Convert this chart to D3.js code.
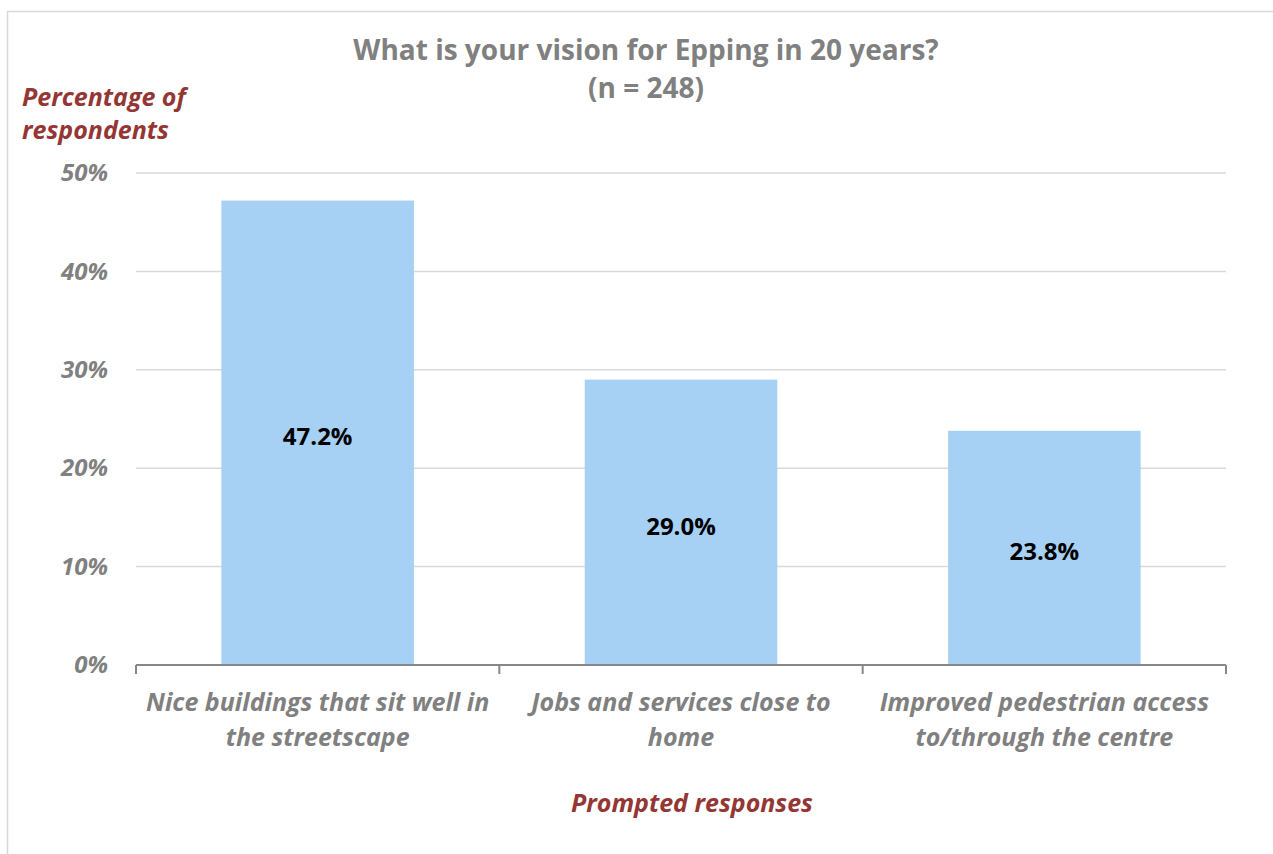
<!DOCTYPE html>
<html>
<head>
<meta charset="utf-8">
<script src="https://cdn.jsdelivr.net/npm/d3@7"></script>
<style>
  html, body { margin: 0; padding: 0; background: #fff; }
  svg { display: block; }
</style>
</head>
<body>
<svg id="chart" width="1273" height="854"></svg>
<script>
// Survey responses: share of respondents choosing each vision
const categories = [
  ["Nice buildings that sit well in", "the streetscape"],
  ["Jobs and services close to", "home"],
  ["Improved pedestrian access", "to/through the centre"]
];
const values = [47.2, 29.0, 23.8];
const yTicks = [0, 10, 20, 30, 40, 50];
const titleLines = ["What is your vision for Epping in 20 years?", "(n = 248)"];
const yTitleLines = ["Percentage of", "respondents"];
const xTitle = "Prompted responses";

const FONT = "'Open Sans', 'Noto Sans', sans-serif";
const svg = d3.select("#chart");

// Outer frame (continues past the visible area at right and bottom)
svg.append("rect")
  .attr("x", 7.5).attr("y", 11.5)
  .attr("width", 1300).attr("height", 900)
  .attr("fill", "#fff")
  .attr("stroke", "#d9d9d9").attr("stroke-width", 1.5);

const plot = { left: 136, right: 1226, top: 173, bottom: 665 };

const x = d3.scaleBand()
  .domain(d3.range(categories.length))
  .range([plot.left, plot.right])
  .paddingInner(0.47).paddingOuter(0.235);

const y = d3.scaleLinear()
  .domain([0, 50])
  .range([plot.bottom, plot.top]);

// Gridlines
svg.append("g")
  .selectAll("line")
  .data(yTicks.filter(t => t > 0))
  .join("line")
  .attr("x1", plot.left).attr("x2", plot.right)
  .attr("y1", d => y(d)).attr("y2", d => y(d))
  .attr("stroke", "#d9d9d9").attr("stroke-width", 1.5);

// Y tick labels
const yAxis = svg.append("g")
  .attr("transform", `translate(${plot.left},0)`)
  .call(d3.axisLeft(y).tickValues(yTicks).tickFormat(d => d + "%").tickSize(0).tickPadding(28));
yAxis.select(".domain").remove();
yAxis.selectAll("text")
  .attr("font-family", FONT)
  .attr("font-size", 24)
  .attr("font-weight", "bold")
  .attr("font-style", "italic")
  .attr("fill", "#808080");

// Bars
svg.append("g")
  .selectAll("rect")
  .data(values)
  .join("rect")
  .attr("x", (d, i) => x(i))
  .attr("width", x.bandwidth())
  .attr("y", d => y(d))
  .attr("height", d => y(0) - y(d))
  .attr("fill", "#a6d1f5");

// Value labels centred in bars
svg.append("g")
  .selectAll("text")
  .data(values)
  .join("text")
  .attr("x", (d, i) => x(i) + x.bandwidth() / 2)
  .attr("y", d => (y(d) + y(0)) / 2 + 4)
  .attr("dy", "0.35em")
  .attr("text-anchor", "middle")
  .attr("font-family", FONT)
  .attr("font-size", 24)
  .attr("font-weight", "bold")
  .attr("fill", "#000")
  .text(d => d.toFixed(1) + "%");

// X axis line with category boundary ticks
const step = (plot.right - plot.left) / categories.length;
const xAxisG = svg.append("g").attr("stroke", "#878787").attr("stroke-width", 2).attr("fill", "none");
xAxisG.append("line")
  .attr("x1", plot.left).attr("x2", plot.right)
  .attr("y1", plot.bottom).attr("y2", plot.bottom);
xAxisG.selectAll("line.tick")
  .data(d3.range(categories.length + 1))
  .join("line")
  .attr("class", "tick")
  .attr("x1", i => plot.left + i * step).attr("x2", i => plot.left + i * step)
  .attr("y1", plot.bottom).attr("y2", plot.bottom + 9);

// Category labels
const catG = svg.append("g");
categories.forEach((lines, i) => {
  const t = catG.append("text")
    .attr("x", x(i) + x.bandwidth() / 2)
    .attr("y", 711)
    .attr("text-anchor", "middle")
    .attr("font-family", FONT)
    .attr("font-size", 25)
    .attr("font-weight", "bold")
    .attr("font-style", "italic")
    .attr("fill", "#808080");
  lines.forEach((ln, j) => {
    t.append("tspan").attr("x", x(i) + x.bandwidth() / 2).attr("dy", j === 0 ? 0 : 35).text(ln);
  });
});

// Title
const title = svg.append("text")
  .attr("x", 646).attr("y", 60)
  .attr("text-anchor", "middle")
  .attr("font-family", FONT)
  .attr("font-size", 28)
  .attr("font-weight", "bold")
  .attr("fill", "#808080");
titleLines.forEach((ln, j) => {
  title.append("tspan").attr("x", 646).attr("dy", j === 0 ? 0 : 38).text(ln);
});

// Y axis title
const yTitle = svg.append("text")
  .attr("x", 22).attr("y", 106)
  .attr("font-family", FONT)
  .attr("font-size", 25)
  .attr("font-weight", "bold")
  .attr("font-style", "italic")
  .attr("fill", "#943634");
yTitleLines.forEach((ln, j) => {
  yTitle.append("tspan").attr("x", 22).attr("dy", j === 0 ? 0 : 33).text(ln);
});

// X axis title
svg.append("text")
  .attr("x", 692).attr("y", 812)
  .attr("text-anchor", "middle")
  .attr("font-family", FONT)
  .attr("font-size", 25)
  .attr("font-weight", "bold")
  .attr("font-style", "italic")
  .attr("fill", "#943634")
  .text(xTitle);
</script>
</body>
</html>
